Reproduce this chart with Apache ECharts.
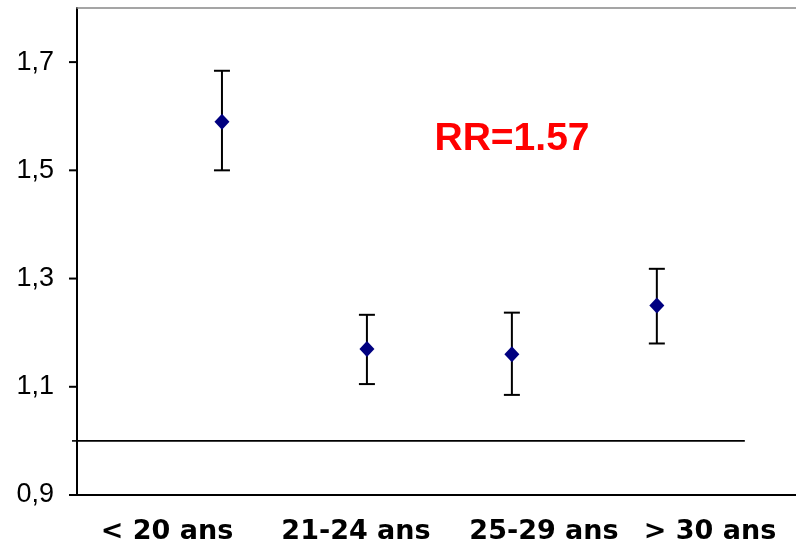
<!DOCTYPE html>
<html>
<head>
<meta charset="utf-8">
<script src="https://cdn.jsdelivr.net/npm/echarts@6/dist/echarts.min.js"></script>
<style>html,body{margin:0;padding:0;background:#fff}#c{width:796px;height:548px}</style>
</head>
<body>
<div id="c"></div>
<script>
var categories = ['< 20 ans', '21-24 ans', '25-29 ans', '> 30 ans'];
var positions = [1, 2, 3, 4];
var rrValues = [1.59, 1.17, 1.16, 1.25];
var lowerCI = [1.50, 1.105, 1.085, 1.18];
var upperCI = [1.684, 1.233, 1.237, 1.318];
var yTicks = [0.9, 1.1, 1.3, 1.5, 1.7];
var refValue = 1.0;
var refLineX = [0, 4.607];
var annotation = 'RR=1.57';

var labelCentersPx = [167, 356, 544, 710];

var chart = echarts.init(document.getElementById('c'), null, {renderer: 'canvas'});

var option = {
  backgroundColor: '#fff',
  animation: false,
  grid: {left: 77, top: 8, right: 0, bottom: 53, containLabel: false},
  xAxis: [{
    type: 'value', min: 0, max: 4.96, position: 'bottom',
    axisLine: {show: true, onZero: false, lineStyle: {color: '#000', width: 2}},
    axisTick: {show: false}, axisLabel: {show: false}, splitLine: {show: false}
  }, {
    type: 'value', min: 0, max: 4.96, position: 'top',
    axisLine: {show: true, onZero: false, lineStyle: {color: '#888', width: 1.5}},
    axisTick: {show: false}, axisLabel: {show: false}, splitLine: {show: false}
  }],
  yAxis: {
    type: 'value', min: 0.9, max: 1.8,
    axisLine: {show: true, lineStyle: {color: '#000', width: 2}},
    axisTick: {show: false},
    axisLabel: {
      customValues: yTicks, margin: 23, color: '#000',
      fontFamily: 'Liberation Sans', fontSize: 27,
      formatter: function (v) { return v.toFixed(1).replace('.', ','); }
    },
    splitLine: {show: false}
  },
  series: [{
    type: 'line',
    data: refLineX.map(function (x) { return [x, refValue]; }),
    symbol: 'none',
    lineStyle: {color: '#000', width: 1.6},
    silent: true, z: 1
  }, {
    type: 'custom',
    data: positions.map(function (p, i) { return [p, lowerCI[i], upperCI[i]]; }),
    renderItem: function (params, api) {
      var lo = api.coord([api.value(0), api.value(1)]);
      var hi = api.coord([api.value(0), api.value(2)]);
      var hw = 8;
      var st = {stroke: '#000', lineWidth: 2};
      return {
        type: 'group',
        children: [
          {type: 'line', shape: {x1: hi[0], y1: hi[1], x2: lo[0], y2: lo[1]}, style: st},
          {type: 'line', shape: {x1: hi[0] - hw, y1: hi[1], x2: hi[0] + hw, y2: hi[1]}, style: st},
          {type: 'line', shape: {x1: lo[0] - hw, y1: lo[1], x2: lo[0] + hw, y2: lo[1]}, style: st}
        ]
      };
    },
    z: 2
  }, {
    type: 'scatter',
    data: positions.map(function (p, i) { return [p, rrValues[i]]; }),
    symbol: 'diamond', symbolSize: [15, 16],
    itemStyle: {color: '#000080', opacity: 1},
    z: 3
  }]
};
chart.setOption(option);

var graphics = [];
categories.forEach(function (c, i) {
  graphics.push({
    type: 'text', x: labelCentersPx[i], y: 532,
    style: {text: c, fill: '#000', font: 'bold 27px "DejaVu Sans"', textAlign: 'center', textVerticalAlign: 'middle'}
  });
});
graphics.push({
  type: 'text', x: 512, y: 139,
  style: {text: annotation, fill: '#ff0000', font: 'bold 39px "Liberation Sans"', textAlign: 'center', textVerticalAlign: 'middle'}
});
yTicks.forEach(function (v) {
  var p = chart.convertToPixel({xAxisIndex: 0, yAxisIndex: 0}, [0, v]);
  graphics.push({type: 'line', shape: {x1: p[0] - 8, y1: p[1], x2: p[0], y2: p[1]}, style: {stroke: '#000', lineWidth: 2}, z: 100});
});
var rp = chart.convertToPixel({xAxisIndex: 0, yAxisIndex: 0}, [0, refValue]);
graphics.push({type: 'line', shape: {x1: rp[0] - 5, y1: rp[1], x2: rp[0], y2: rp[1]}, style: {stroke: '#000', lineWidth: 1.6}, z: 100});
chart.setOption({graphic: {elements: graphics}});
</script>
</body>
</html>
